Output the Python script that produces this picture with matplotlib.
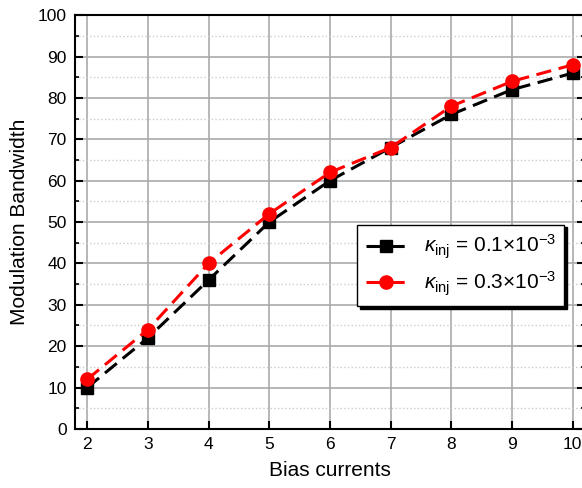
import numpy as np
import matplotlib
matplotlib.use("Agg")
from matplotlib import pyplot as plt
from matplotlib.ticker import MultipleLocator

plt.rcParams['font.family'] = ['Liberation Sans', 'DejaVu Sans']
plt.rcParams['mathtext.fontset'] = 'custom'
plt.rcParams['mathtext.rm'] = 'Liberation Sans'
plt.rcParams['mathtext.it'] = 'Liberation Sans:italic'

bias = [2, 3, 4, 5, 6, 7, 8, 9, 10]
bw_01 = [10, 22, 36, 50, 60, 68, 76, 82, 86]
bw_03 = [12, 24, 40, 52, 62, 68, 78, 84, 88]

fig = plt.figure(figsize=(5.82, 4.88), dpi=100)
ax = fig.add_axes([0.129, 0.121, 0.876, 0.848])

ax.plot(bias, bw_01, color='black', ls=(0, (5, 2.5)), lw=2.2, marker='s', ms=8.5,
        label=r'$\kappa_{\rm inj}$ = 0.1×10$^{-3}$', zorder=3)
ax.plot(bias, bw_03, color='red', ls=(0, (5, 2.5)), lw=2.2, marker='o', ms=9.5,
        label=r'$\kappa_{\rm inj}$ = 0.3×10$^{-3}$', zorder=4)

ax.set_xlim(1.8, 10.2)
ax.set_ylim(0, 100)
ax.xaxis.set_major_locator(MultipleLocator(1))
ax.yaxis.set_major_locator(MultipleLocator(10))
ax.yaxis.set_minor_locator(MultipleLocator(5))
ax.grid(True, which='major', color='#aaaaaa', lw=1.2)
ax.grid(True, which='minor', axis='y', color='#cccccc', lw=1, ls=':')
ax.set_axisbelow(True)
ax.tick_params(direction='in', which='both', top=False, right=True, labelsize=12.5)
ax.tick_params(which='major', length=6, width=1.5, pad=6)
ax.tick_params(which='minor', length=3, width=1.2)
for s in ax.spines.values():
    s.set_linewidth(1.5)

ax.set_xlabel('Bias currents', fontsize=15, labelpad=6)
ax.set_ylabel('Modulation Bandwidth', fontsize=15, labelpad=6)

leg = ax.legend(loc='center right', bbox_to_anchor=(0.98, 0.395), fontsize=15,
                frameon=True, fancybox=False, shadow={'color': 'black', 'alpha': 1},
                edgecolor='black', framealpha=1, handlelength=2.0,
                borderpad=0.4, labelspacing=0.4)
leg.get_frame().set_linewidth(1)

fig.savefig('out.png', dpi=100)
